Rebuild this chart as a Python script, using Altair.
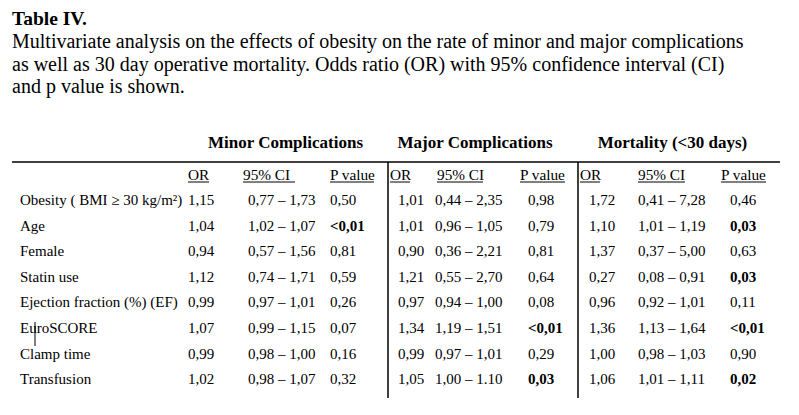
import altair as alt
import pandas as pd

# ---------------- data ----------------
title = "Table IV."
caption = [
    "Multivariate analysis on the effects of obesity on the rate of minor and major complications",
    "as well as 30 day operative mortality. Odds ratio (OR) with 95% confidence interval (CI)",
    "and p value is shown.",
]
groups = ["Minor Complications", "Major Complications", "Mortality (<30 days)"]
subheads = ["OR", "95% CI", "P value"]
rows = ["Obesity ( BMI \u2265 30 kg/m\u00b2)", "Age", "Female", "Statin use",
        "Ejection fraction (%) (EF)", "EuroSCORE", "Clamp time", "Transfusion"]

minor_or = ["1,15", "1,04", "0,94", "1,12", "0,99", "1,07", "0,99", "1,02"]
minor_ci = ["0,77 \u2013 1,73", "1,02 \u2013 1,07", "0,57 \u2013 1,56", "0,74 \u2013 1,71",
            "0,97 \u2013 1,01", "0,99 \u2013 1,15", "0,98 \u2013 1,00", "0,98 \u2013 1,07"]
minor_p = ["0,50", "<0,01", "0,81", "0,59", "0,26", "0,07", "0,16", "0,32"]

major_or = ["1,01", "1,01", "0,90", "1,21", "0,97", "1,34", "0,99", "1,05"]
major_ci = ["0,44 \u2013 2,35", "0,96 \u2013 1,05", "0,36 \u2013 2,21", "0,55 \u2013 2,70",
            "0,94 \u2013 1,00", "1,19 \u2013 1,51", "0,97 \u2013 1,01", "1,00 \u2013 1.10"]
major_p = ["0,98", "0,79", "0,81", "0,64", "0,08", "<0,01", "0,29", "0,03"]

mort_or = ["1,72", "1,10", "1,37", "0,27", "0,96", "1,36", "1,00", "1,06"]
mort_ci = ["0,41 \u2013 7,28", "1,01 \u2013 1,19", "0,37 \u2013 5,00", "0,08 \u2013 0,91",
           "0,92 \u2013 1,01", "1,13 \u2013 1,64", "0,98 \u2013 1,03", "1,01 \u2013 1,11"]
mort_p = ["0,46", "0,03", "0,63", "0,03", "0,11", "<0,01", "0,90", "0,02"]

# ---------------- layout (reference pixel coordinates) ----------------
FONT = "Liberation Serif"
TITLE_X, TITLE_Y, CAP_Y0, CAP_STEP = 12, 25, 48, 22.7
GROUP_CX = [285.5, 475, 672.5]
GROUP_Y = 148
SUB_Y = 180
SUB_X = [[188, 243, 330], [390, 437, 520], [580, 638, 721]]
SUB_W = [[21, 52, 44], [20, 46, 45], [20, 47, 45]]
VAL_X = [[188, 248, 330], [398, 435, 528], [589, 638, 730]]
LABEL_X = 20
ROW_Y0, ROW_STEP = 205, 25.6
HLINE = (12, 780, 162)
VLINES = [388, 578]
VLINE_Y = (162, 398)

def is_sig(p):
    return p.startswith("<") or float(p.replace(",", ".")) < 0.05

cols = [[minor_or, minor_ci, minor_p], [major_or, major_ci, major_p], [mort_or, mort_ci, mort_p]]

cells = []
for g in range(3):
    for c in range(3):
        for r, v in enumerate(cols[g][c]):
            cells.append({"x": VAL_X[g][c], "y": ROW_Y0 + ROW_STEP * r, "t": v,
                          "bold": c == 2 and is_sig(v)})
cells = pd.DataFrame(cells)

labels = pd.DataFrame({"x": [LABEL_X] * len(rows),
                       "y": [ROW_Y0 + ROW_STEP * r for r in range(len(rows))],
                       "t": rows})
subs = pd.DataFrame([{"x": SUB_X[g][c], "y": SUB_Y, "t": subheads[c]}
                     for g in range(3) for c in range(3)])
unders = pd.DataFrame([{"x": SUB_X[g][c], "x2": SUB_X[g][c] + SUB_W[g][c], "y": SUB_Y + 2}
                       for g in range(3) for c in range(3)])
grp = pd.DataFrame({"x": GROUP_CX, "y": [GROUP_Y] * 3, "t": groups})
ttl = pd.DataFrame({"x": [TITLE_X], "y": [TITLE_Y], "t": [title]})
cap = pd.DataFrame({"x": [TITLE_X] * 3, "y": [CAP_Y0 + CAP_STEP * i for i in range(3)], "t": caption})
hl = pd.DataFrame({"x": [HLINE[0]], "x2": [HLINE[1]], "y": [HLINE[2]]})
vl = pd.DataFrame({"x": VLINES, "y": [VLINE_Y[0]] * 2, "y2": [VLINE_Y[1]] * 2})
cursor = pd.DataFrame({"x": [35], "y": [322], "y2": [346]})

xs = alt.Scale(domain=[8, 791], range=[0, 783], nice=False, zero=False)
ys = alt.Scale(domain=[8, 407], range=[0, 399], nice=False, zero=False)
X = alt.X("x:Q", scale=xs, axis=None)
Y = alt.Y("y:Q", scale=ys, axis=None)

def text(df, size, weight="normal", align="left"):
    return alt.Chart(df).mark_text(font=FONT, fontSize=size, fontWeight=weight, align=align,
                                   baseline="alphabetic", color="black").encode(x=X, y=Y, text="t:N")

layers = [
    text(ttl, 19.5, "bold"),
    text(cap, 20),
    text(grp, 17, "bold", "center"),
    text(subs, 15.3),
    text(labels, 15),
    text(cells[~cells.bold], 15),
    text(cells[cells.bold], 15, "bold"),
    alt.Chart(hl).mark_rule(color="black", strokeWidth=1.5).encode(x=X, x2="x2:Q", y=Y),
    alt.Chart(unders).mark_rule(color="black", strokeWidth=1).encode(x=X, x2="x2:Q", y=Y),
    alt.Chart(vl).mark_rule(color="black", strokeWidth=1.5).encode(x=X, y=Y, y2="y2:Q"),
    alt.Chart(cursor).mark_rule(color="black", strokeWidth=1).encode(x=X, y=Y, y2="y2:Q"),
]

chart = alt.layer(*layers).properties(
    width=783, height=399, padding=0, autosize=alt.AutoSizeParams(type="none"),
    background="white",
).configure_view(stroke=None)

chart.save("out.html", embed_options={"renderer": "svg", "actions": False})
